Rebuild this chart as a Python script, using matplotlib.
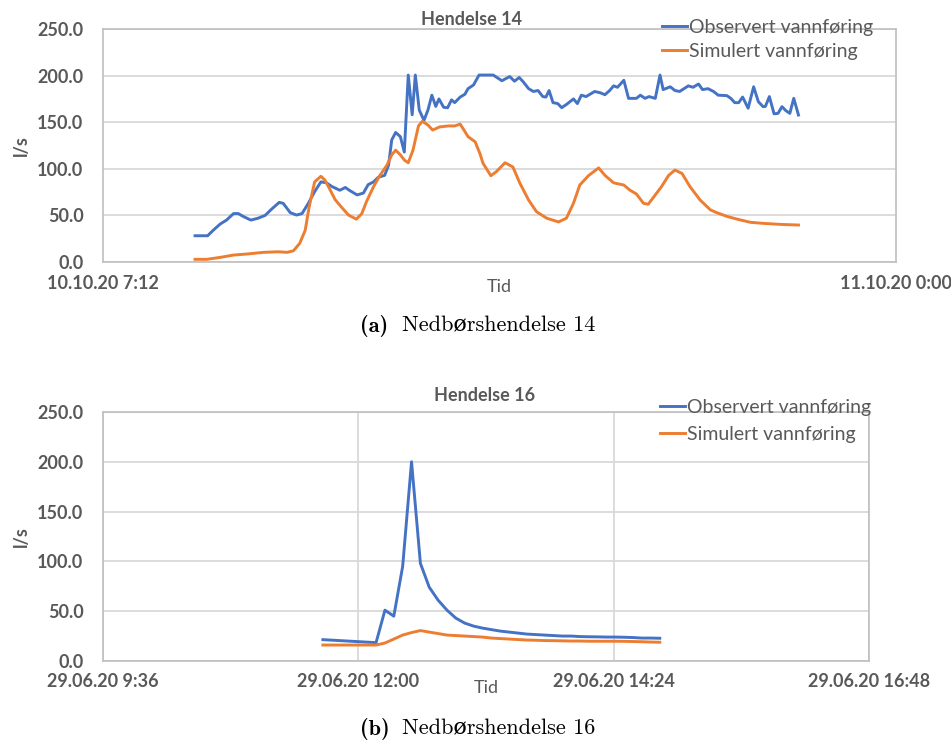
import pandas as pd
import matplotlib
matplotlib.use("Agg")
import matplotlib.pyplot as plt

BLUE = "#4472C4"
ORANGE = "#ED7D31"
GREY = "#595959"
GRID = "#D9D9D9"
FRAME = "#BFBFBF"

## Hendelse 14, 10.10.20 (l/s)
obs14_tid = ["09:09", "09:25", "09:32", "09:41", "09:49", "09:58", "10:04", "10:10",
             "10:20", "10:29", "10:38", "10:46", "10:56", "11:01", "11:10", "11:18",
             "11:25", "11:33", "11:41", "11:49", "11:56", "12:03", "12:13", "12:20",
             "12:26", "12:35", "12:43", "12:49", "12:56", "13:02", "13:10", "13:15",
             "13:19", "13:24", "13:30", "13:35", "13:40", "13:45", "13:49", "13:54",
             "14:00", "14:05", "14:10", "14:15", "14:19", "14:25", "14:30", "14:35",
             "14:39", "14:46", "14:52", "14:56", "15:03", "15:10", "15:28", "15:39",
             "15:49", "15:55", "16:01", "16:06", "16:13", "16:19", "16:25", "16:31",
             "16:35", "16:39", "16:44", "16:50", "16:55", "17:01", "17:10", "17:15",
             "17:20", "17:26", "17:31", "17:37", "17:44", "17:50", "17:56", "18:01",
             "18:06", "18:14", "18:20", "18:30", "18:35", "18:41", "18:46", "18:54",
             "19:00", "19:04", "19:13", "19:19", "19:25", "19:36", "19:42", "19:49",
             "19:54", "20:01", "20:08", "20:14", "20:25", "20:30", "20:35", "20:40",
             "20:45", "20:52", "20:59", "21:05", "21:11", "21:14", "21:19", "21:25",
             "21:30", "21:35", "21:40", "21:45", "21:50", "21:56"]
obs14 = [28.2, 28.2, 34, 40.8, 45, 52, 52, 49,
         45, 47, 50, 56.5, 64, 63, 53, 50.4,
         52, 63, 75.5, 86, 85, 81, 77, 80,
         76.5, 72, 74, 83, 86, 91, 93, 104,
         131, 139, 134.5, 118, 200.6, 158, 200.6, 163,
         152, 163, 179, 167, 175, 166, 165.5, 174,
         171, 177, 180, 186, 190, 200.6, 200.6, 194.5,
         199, 194, 198, 193.5, 186, 183, 184, 177.5,
         177, 184, 171, 170, 165.6, 169, 175, 170,
         179, 177.5, 180, 183, 181.6, 179.5, 184, 189,
         187.5, 195, 175.6, 175.6, 179, 175.6, 177.5, 175.6,
         200.6, 185, 188, 184, 183, 189, 187.5, 191,
         185, 186, 183, 179, 178.5, 175.6, 171, 171,
         177, 165, 188, 172, 166.7, 167, 177.5, 159,
         159.5, 166.7, 162.4, 159.5, 175.6, 157.7]

sim14_tid = ["09:09", "09:24", "09:41", "09:58", "10:15", "10:36", "10:55", "11:06",
             "11:14", "11:22", "11:29", "11:34", "11:41", "11:49", "11:54", "12:01",
             "12:07", "12:15", "12:24", "12:34", "12:41", "12:47", "12:56", "13:04",
             "13:13", "13:19", "13:24", "13:30", "13:35", "13:40", "13:46", "13:53",
             "13:58", "14:05", "14:11", "14:20", "14:31", "14:39", "14:46", "14:52",
             "14:56", "15:05", "15:11", "15:15", "15:25", "15:32", "15:43", "15:53",
             "16:02", "16:13", "16:23", "16:36", "16:51", "17:01", "17:10", "17:18",
             "17:29", "17:42", "17:50", "18:01", "18:14", "18:22", "18:30", "18:39",
             "18:45", "18:54", "19:02", "19:11", "19:19", "19:28", "19:38", "19:51",
             "20:04", "20:12", "20:25", "20:38", "20:55", "21:11", "21:33", "21:56"]
sim14 = [2.9, 2.9, 5, 7.5, 8.6, 10.4, 11, 10.4,
         12, 20, 34, 59, 86, 92, 88, 77,
         67, 59, 50.4, 46, 52, 65, 81, 93,
         104, 115, 120, 115, 109.4, 106.5, 120, 146,
         151, 147, 141.6, 145, 146, 146, 148, 140,
         134.5, 129, 116.6, 106, 92.6, 97, 106.5, 102,
         84.4, 66.5, 54, 47, 43, 47, 63, 82.6,
         92.6, 101, 93, 85, 82.6, 77, 73, 63,
         62, 72, 81, 93, 98.7, 95, 81, 66.5,
         56, 53, 49, 46, 42.6, 41.5, 40.4, 39.7]

## Hendelse 16, 29.06.20 (l/s)
tid16 = ["11:40", "12:10", "12:15", "12:20", "12:25", "12:30", "12:35", "12:40",
         "12:45", "12:50", "12:55", "13:00", "13:05", "13:10", "13:15", "13:20",
         "13:25", "13:30", "13:35", "13:40", "13:45", "13:50", "13:55", "14:00",
         "14:05", "14:10", "14:15", "14:20", "14:25", "14:30", "14:35", "14:40",
         "14:45", "14:50"]
obs16 = [21.4, 18.4, 51, 45, 95, 200, 98, 74,
         61, 51, 43, 38, 35, 33, 31.5, 30,
         29, 28, 27, 26.5, 26, 25.5, 25, 25,
         24.5, 24.3, 24.2, 24, 24, 23.8, 23.5, 23,
         23, 22.8]
sim16 = [16, 16, 18, 22, 26, 28.5, 30.5, 29,
         27.5, 26, 25.5, 25, 24.5, 24, 23, 22.5,
         22, 21.5, 21, 20.8, 20.5, 20.4, 20.2, 20,
         20, 19.8, 19.8, 19.8, 19.8, 19.7, 19.5, 19.3,
         19, 18.8]

yticks = [0, 50, 100, 150, 200, 250]
xt14 = ["2020-10-10 07:12", "2020-10-11 00:00"]
xt14_lab = ["10.10.20 7:12", "11.10.20 0:00"]
xt16 = ["2020-06-29 09:36", "2020-06-29 12:00", "2020-06-29 14:24", "2020-06-29 16:48"]
xt16_lab = ["29.06.20 9:36", "29.06.20 12:00", "29.06.20 14:24", "29.06.20 16:48"]

plt.rcParams['font.family'] = ['Lato', 'DejaVu Sans']


def tider(dato, tid):
    return pd.to_datetime([dato + " " + t for t in tid])


def pynt(ax, xt, xlab, xgrid):
    xt = pd.to_datetime(xt)
    ax.set_xlim(xt[0], xt[-1])
    ax.set_ylim(0, 250)
    ax.set_yticks(yticks)
    ax.set_yticklabels(["%.1f" % v for v in yticks], fontweight="bold")
    ax.set_xticks(xt)
    ax.set_xticklabels(xlab, fontweight="bold")
    ax.tick_params(length=0, labelsize=13, labelcolor=GREY)
    ax.tick_params(axis="y", pad=14)
    ax.tick_params(axis="x", pad=9)
    ax.yaxis.grid(True, color=GRID, lw=1.3)
    if xgrid:
        ax.xaxis.grid(True, color=GRID, lw=1.3)
    ax.set_axisbelow(True)
    for sp in ax.spines.values():
        sp.set_color(FRAME)
        sp.set_linewidth(1.2)
    ax.set_xlabel("Tid", fontsize=13, color=GREY)
    ax.xaxis.label.set_va("center")
    ax.set_ylabel("l/s", fontsize=13, color=GREY, fontweight="bold")
    ax.yaxis.label.set_va("center")


fig = plt.figure(figsize=(9.51, 7.4), dpi=100)

## (a) Hendelse 14
ax1 = fig.add_axes([0.1083, 0.6459, 0.8339, 0.3149])
ax1.plot(tider("2020-10-10", obs14_tid), obs14, color=BLUE, lw=2.1, label="Observert vannføring")
ax1.plot(tider("2020-10-10", sim14_tid), sim14, color=ORANGE, lw=2.1, label="Simulert vannføring")
pynt(ax1, xt14, xt14_lab, False)
ax1.xaxis.set_label_coords(0.5, -0.107)
ax1.yaxis.set_label_coords(-0.1034, 0.5)
fig.text(0.4953, 0.973, "Hendelse 14", ha="center", va="center",
         fontsize=13, fontweight="bold", color=GREY)
fig.legend(*ax1.get_legend_handles_labels(), loc="upper left", bbox_to_anchor=(0.696, 0.975),
           frameon=False, fontsize=14, handlelength=1.3, handletextpad=0.08,
           labelspacing=0.4, borderpad=0, borderaxespad=0, labelcolor=GREY)

## (b) Hendelse 16
ax2 = fig.add_axes([0.1083, 0.1068, 0.8055, 0.3365])
ax2.plot(tider("2020-06-29", tid16), obs16, color=BLUE, lw=2.1, label="Observert vannføring")
ax2.plot(tider("2020-06-29", tid16), sim16, color=ORANGE, lw=2.1, label="Simulert vannføring")
pynt(ax2, xt16, xt16_lab, True)
ax2.xaxis.set_label_coords(0.5, -0.108)
ax2.yaxis.set_label_coords(-0.107, 0.5)
fig.text(0.51, 0.4649, "Hendelse 16", ha="center", va="center",
         fontsize=13, fontweight="bold", color=GREY)
fig.legend(*ax2.get_legend_handles_labels(), loc="upper left", bbox_to_anchor=(0.694, 0.461),
           frameon=False, fontsize=14, handlelength=1.3, handletextpad=0.08,
           labelspacing=0.5, borderpad=0, borderaxespad=0, labelcolor=GREY)

## captions
for tag, navn, y in [("(a)", "Nedbørshendelse 14", 0.5595), ("(b)", "Nedbørshendelse 16", 0.0149)]:
    fig.text(360 / 951, y, tag, ha="left", va="center", fontsize=16,
             family=["cmb10", "DejaVu Serif"])
    fig.text(402 / 951, y, navn, ha="left", va="center", fontsize=16,
             family=["cmr10", "DejaVu Serif"])

fig.savefig("out.png", dpi=100)
